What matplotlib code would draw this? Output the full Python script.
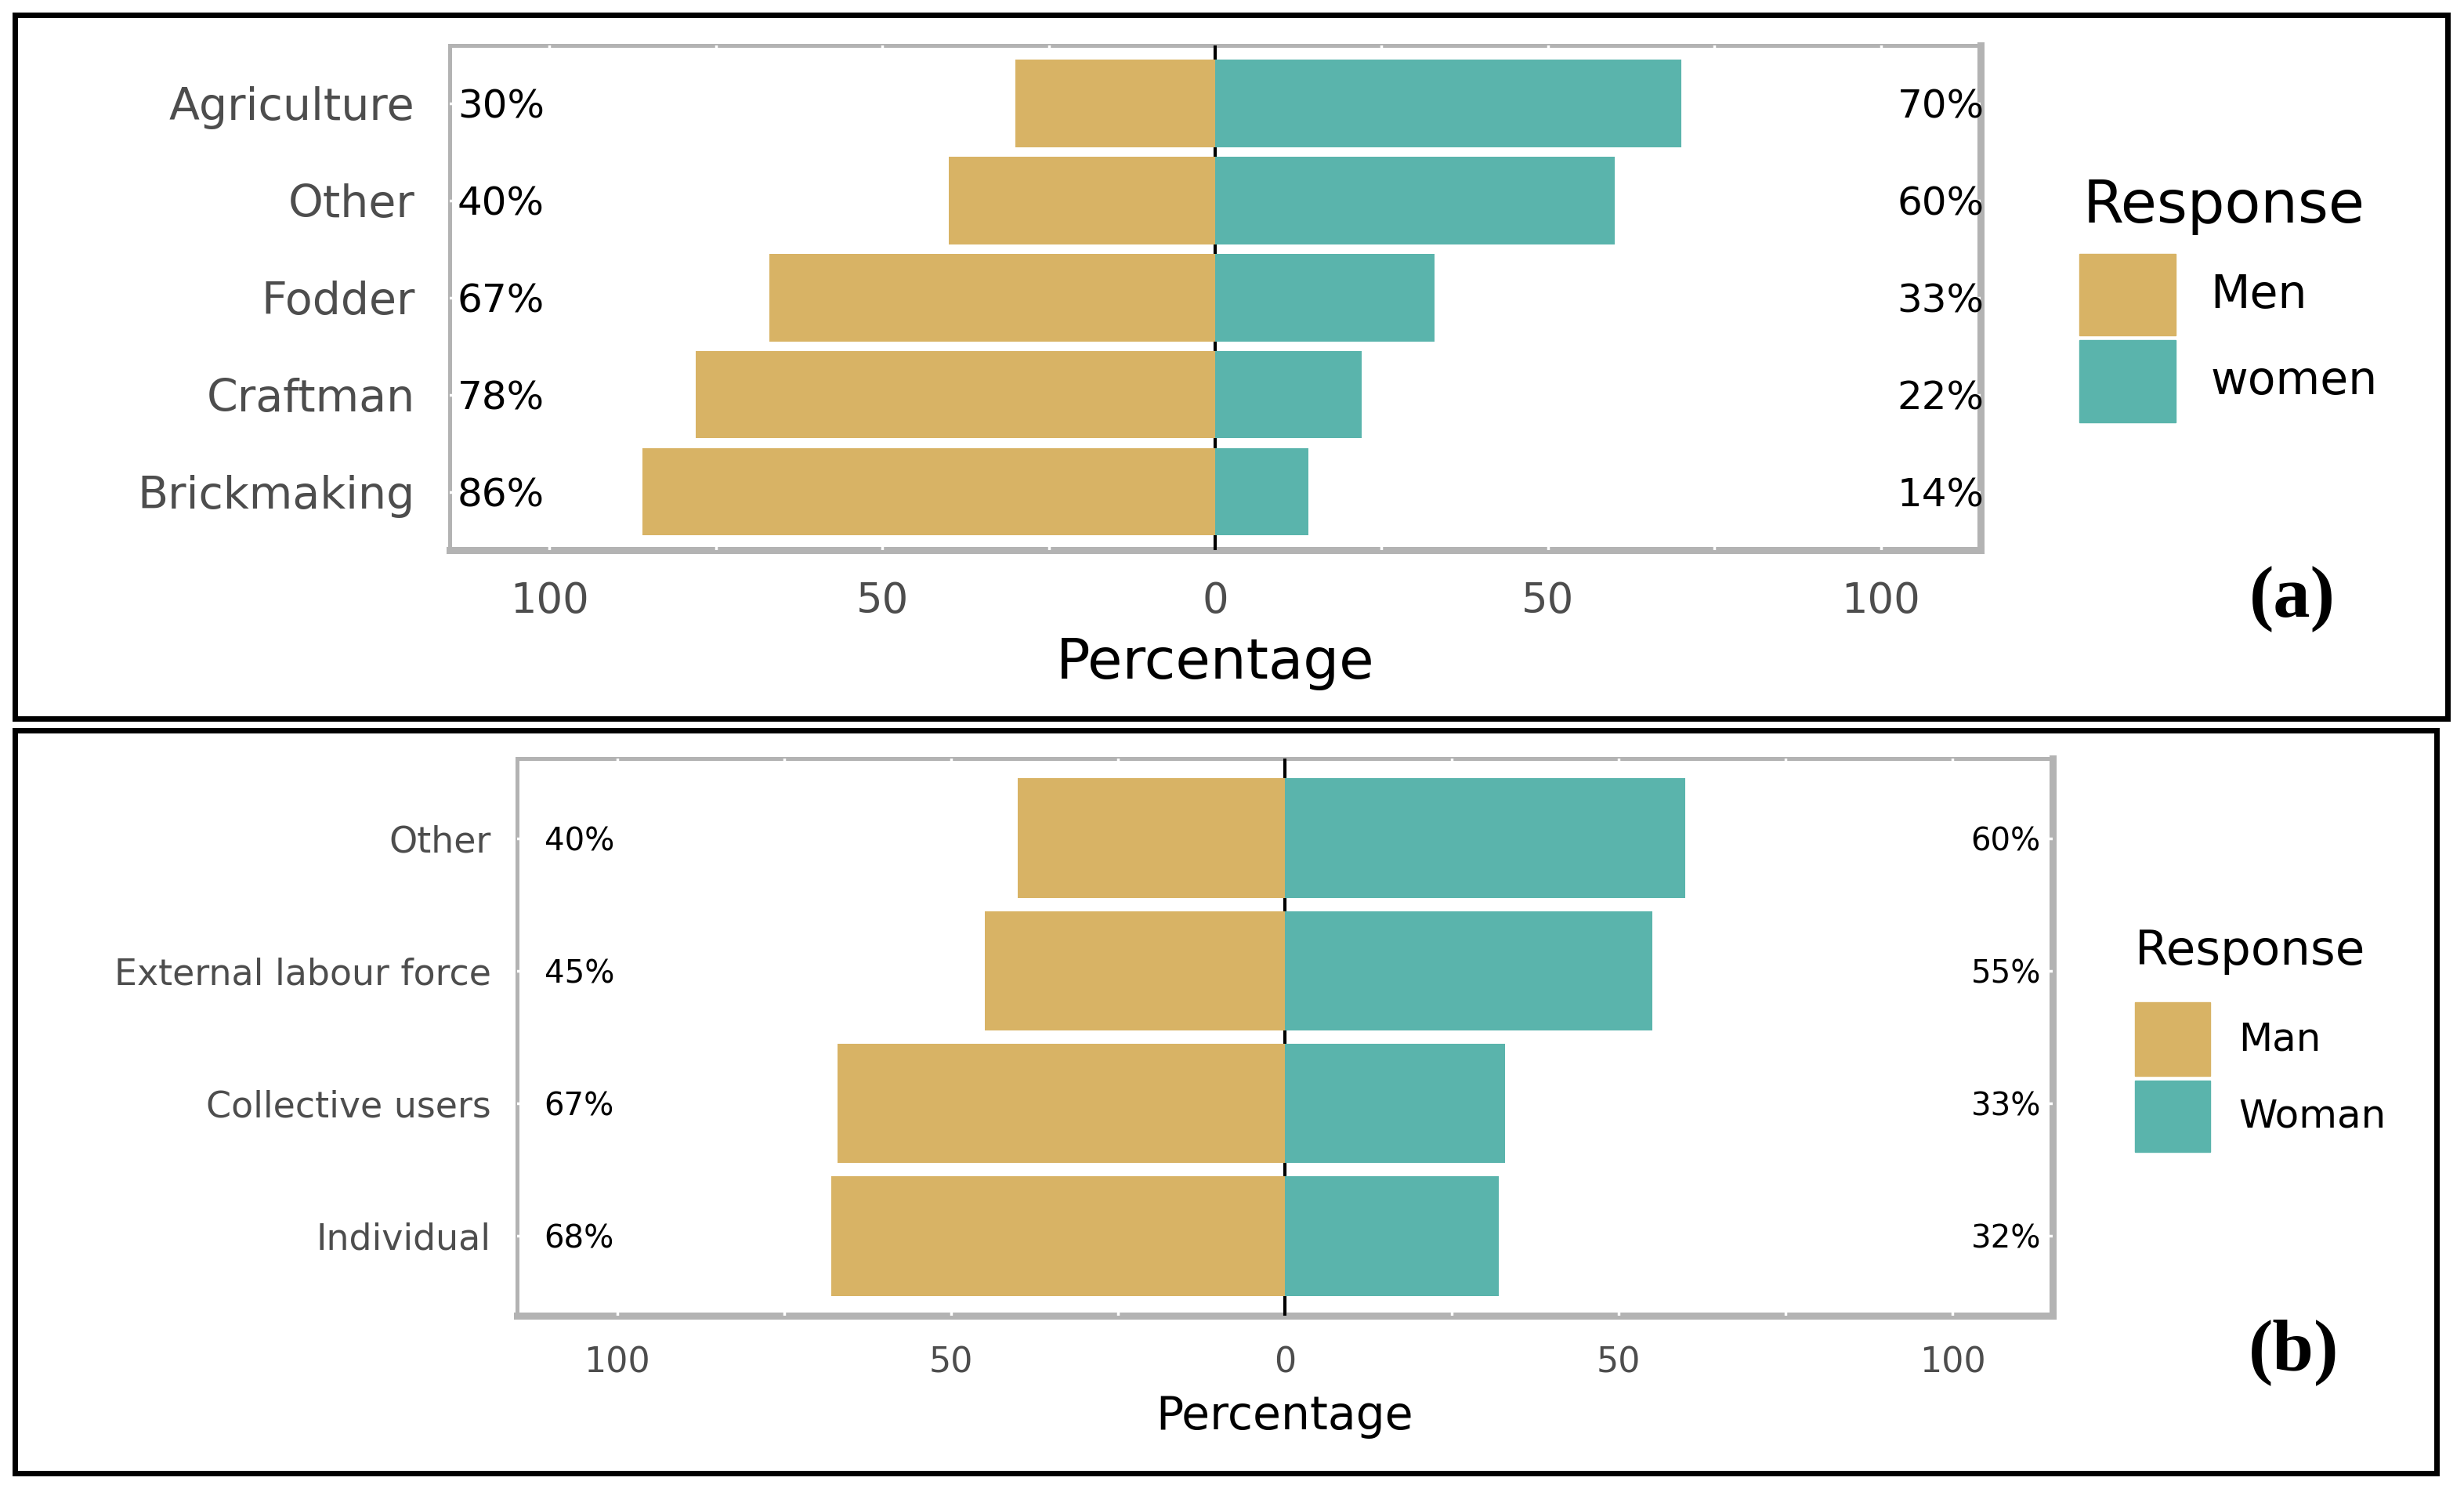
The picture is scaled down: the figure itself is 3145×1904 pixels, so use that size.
import numpy as np
import matplotlib.pyplot as plt
from matplotlib.patches import Rectangle

# panel (a) data
cats_a = ['Agriculture', 'Other', 'Fodder', 'Craftman', 'Brickmaking']
men_a = [30, 40, 67, 78, 86]
women_a = [70, 60, 33, 22, 14]
legend_a = ['Men', 'women']

# panel (b) data
cats_b = ['Other', 'External labour force', 'Collective users', 'Individual']
men_b = [40, 45, 67, 68]
women_b = [60, 55, 33, 32]
legend_b = ['Man', 'Woman']

ticks = [-100, -50, 0, 50, 100]
tick_labels = ['100', '50', '0', '50', '100']

gold = '#D8B365'
teal = '#5AB4AC'
grey_txt = '#4D4D4D'
colors = [gold, teal]

plt.rcParams['font.family'] = ['DejaVu Sans']

W, H = 3145.0, 1904.0
S = 3145.0 / 1564.0  # some positions were read on a half size copy


def fx(px):
    return px / W


def fy(py):
    return 1 - py / H


def box(l, t, r, b):
    return [fx(l), fy(b), fx(r) - fx(l), fy(t) - fy(b)]


fig = plt.figure(figsize=(31.45, 19.04), dpi=100)


def panel(rect, cats, men, women, fs_cat, fs_pct, fs_tick, fs_lab, xl, xr, ypad, labpad):
    ax = fig.add_axes(rect)
    n = len(cats)
    y = np.arange(n)[::-1]
    ax.barh(y, -np.array(men), height=0.9, color=gold, zorder=2)
    ax.barh(y, women, height=0.9, color=teal, zorder=2)
    ax.axvline(0, color='black', lw=3, zorder=1)
    for yi, m, w in zip(y, men, women):
        ax.text(xl, yi, f'{m}%', ha='center', va='center_baseline', fontsize=fs_pct, color='black', zorder=3)
        ax.text(xr, yi, f'{w}%', ha='center', va='center_baseline', fontsize=fs_pct, color='black', zorder=3)
    ax.set_xlim(-115, 115)
    ax.set_ylim(-0.6, n - 0.4)
    ax.set_xticks(ticks)
    ax.set_xticklabels(tick_labels)
    ax.set_xticks([-75, -25, 25, 75], minor=True)
    ax.set_yticks(y)
    ax.set_yticklabels(cats)
    ax.tick_params(axis='both', which='both', length=0, colors=grey_txt)
    ax.tick_params(axis='x', labelsize=fs_tick, pad=28)
    ax.tick_params(axis='y', labelsize=fs_cat, pad=ypad)
    ax.grid(True, which='both', color='white', lw=2.5)
    ax.set_axisbelow(True)
    for k, s in ax.spines.items():
        s.set_color('#B3B3B3')
        s.set_linewidth(3.6 if k in ('left', 'top') else 6.5)
        s.set_zorder(0)
    ax.set_xlabel('Percentage', fontsize=fs_lab, color='black', labelpad=labpad)
    return ax


ax1 = panel(box(574, 57.5, 2528, 702),
            cats_a, men_a, women_a, 41, 36, 38, 52, -107.3, 109, 32, 14)
ax2 = panel(box(660, 968, 2620, 1679),
            cats_b, men_b, women_b, 33, 29, 32, 42, -105.7, 108, 24, 13)

# legends drawn by hand to match the ggplot look
fig.text(fx(1322 * S), fy(131 * S), 'Response', fontsize=54, va='center', ha='left')
key_a = [(161, 213), (216, 268)]
for (t, b), c, lab in zip(key_a, colors, legend_a):
    fig.add_artist(Rectangle((fx(1320 * S), fy(b * S)), fx(61 * S), fy(t * S) - fy(b * S),
                             transform=fig.transFigure, color=c))
    fig.text(fx(1403 * S), fy((t + b) / 2 * S), lab, fontsize=42, va='center', ha='left')

fig.text(fx(1355 * S), fy(604 * S), 'Response', fontsize=44, va='center', ha='left')
key_b = [(636, 683), (686, 731)]
for (t, b), c, lab in zip(key_b, colors, legend_b):
    fig.add_artist(Rectangle((fx(1355 * S), fy(b * S)), fx(48 * S), fy(t * S) - fy(b * S),
                             transform=fig.transFigure, color=c))
    fig.text(fx(1421 * S), fy((t + b) / 2 * S), lab, fontsize=36, va='center', ha='left')

# panel letters
fig.text(fx(1455 * S), fy(380 * S), '(a)', fontsize=68, fontweight='bold', family='Liberation Serif',
         ha='center', va='center')
fig.text(fx(1456 * S), fy(858 * S), '(b)', fontsize=68, fontweight='bold', family='Liberation Serif',
         ha='center', va='center')

# black frames round each panel
fig.add_artist(Rectangle((fx(19), fy(917)), fx(3124) - fx(19), fy(19) - fy(917),
                         transform=fig.transFigure, fill=False, ec='black', lw=5))
fig.add_artist(Rectangle((fx(19), fy(1880)), fx(3110) - fx(19), fy(932) - fy(1880),
                         transform=fig.transFigure, fill=False, ec='black', lw=5))

fig.savefig('out.png', dpi=100, facecolor='white')
